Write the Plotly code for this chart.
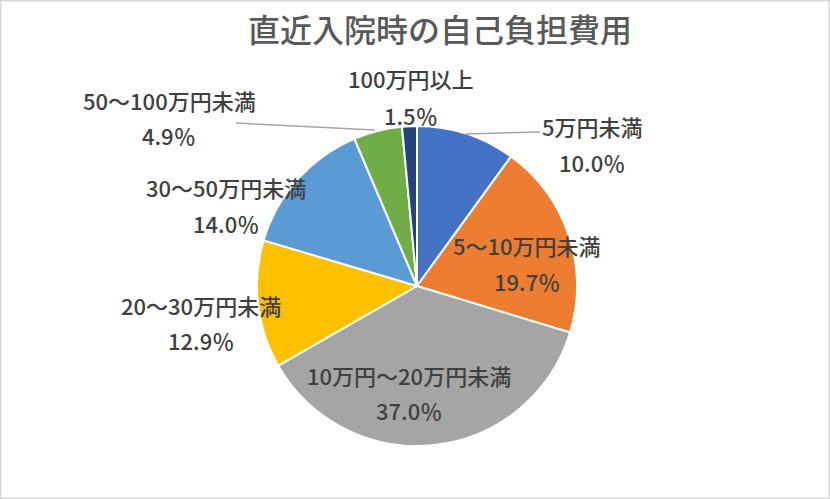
import plotly.graph_objects as go

# ---- data ----
categories = ["5万円未満", "5～10万円未満", "10万円～20万円未満", "20～30万円未満",
              "30～50万円未満", "50～100万円未満", "100万円以上"]
shares = [10.0, 19.7, 37.0, 12.9, 14.0, 4.9, 1.5]
pct_labels = [f"{v:.1f}％" for v in shares]

# ---- style / layout ----
colors = ["#4472C4", "#ED7D31", "#A5A5A5", "#FFC000", "#5B9BD5", "#70AD47", "#264478"]
W, H = 830, 499
cx, cy, R = 417, 286, 160
# label centres (pixels): (x, y_name, y_pct)
label_pos = [(592, 126, 162), (527, 245, 281), (409, 375, 410), (201, 305, 340),
             (226, 187, 223), (169, 100, 135), (411, 78, 115)]
leaders = [((465, 134), (540, 132)), ((236, 123), (375, 130))]

def px(x):
    return x / W

def py(y):
    return 1 - y / H

fig = go.Figure(go.Pie(
    labels=categories, values=shares, sort=False, direction="clockwise", rotation=0,
    marker=dict(colors=colors, line=dict(color="white", width=2)),
    textinfo="none", hoverinfo="label+percent", showlegend=False,
    domain=dict(x=[px(cx - R), px(cx + R)], y=[py(cy + R), py(cy - R)]),
))

font_family = "Noto Sans CJK JP"
lab_font = dict(family=font_family, size=22, color="#404040", weight=500)
ann = []
for name, pct, (x, yn, yp) in zip(categories, pct_labels, label_pos):
    ann.append(dict(text=name, x=px(x), y=py(yn), xref="paper", yref="paper",
                    showarrow=False, xanchor="center", yanchor="middle", font=lab_font))
    ann.append(dict(text=pct, x=px(x), y=py(yp), xref="paper", yref="paper",
                    showarrow=False, xanchor="center", yanchor="middle", font=lab_font))

shapes = [dict(type="rect", xref="paper", yref="paper", x0=0, y0=0, x1=1, y1=1,
               line=dict(color="#D9D9D9", width=3))]
for (x0, y0), (x1, y1) in leaders:
    shapes.append(dict(type="line", xref="paper", yref="paper",
                       x0=px(x0), y0=py(y0), x1=px(x1), y1=py(y1),
                       line=dict(color="#A6A6A6", width=1.5)))

fig.update_layout(
    width=W, height=H, margin=dict(l=0, r=0, t=0, b=0),
    paper_bgcolor="white", plot_bgcolor="white",
    title=dict(text="直近入院時の自己負担費用", x=px(440), y=py(31),
               xanchor="center", yanchor="middle",
               font=dict(family=font_family, size=32, color="#595959", weight=500)),
    annotations=ann, shapes=shapes,
)

fig.write_html("out.html", config={"displayModeBar": False},
               post_script="document.body.style.margin='0';document.body.style.overflow='hidden';")
